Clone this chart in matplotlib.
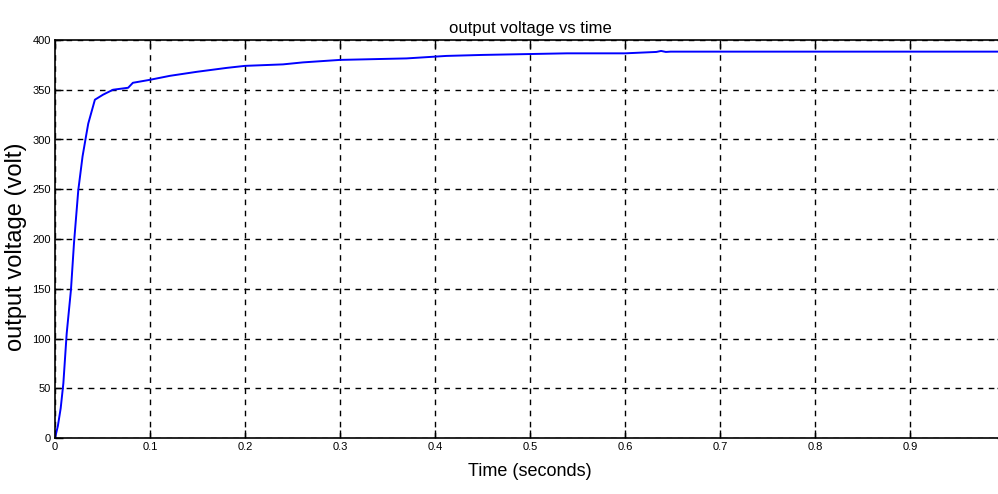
import matplotlib
matplotlib.use("Agg")
import matplotlib.pyplot as plt

# ---------- data ----------
t = [0.0, 0.003, 0.006, 0.0088, 0.0123, 0.0168, 0.020, 0.0245, 0.029, 0.0326,
     0.035, 0.042, 0.0505, 0.061, 0.077, 0.082, 0.100, 0.121, 0.149, 0.181,
     0.200, 0.240, 0.261, 0.300, 0.370, 0.412, 0.450, 0.539, 0.600, 0.633,
     0.638, 0.643, 0.648, 0.700, 0.800, 0.900, 1.000]
v = [0, 12, 30, 55, 105, 149, 196, 249, 283, 303,
     316, 340, 345, 350, 352, 357, 360, 364, 368, 372,
     374, 375.5, 377.5, 380, 381.5, 384, 385, 386.6, 386.6, 388,
     389, 388, 388.3, 388.3, 388.3, 388.3, 388.3]

xticks = [0, 0.1, 0.2, 0.3, 0.4, 0.5, 0.6, 0.7, 0.8, 0.9]
yticks = [0, 50, 100, 150, 200, 250, 300, 350, 400]

FONT = ["Liberation Sans Narrow", "Liberation Sans", "DejaVu Sans"]
plt.rcParams["font.family"] = FONT

fig = plt.figure(figsize=(9.98, 4.94), dpi=100)
ax = fig.add_axes([55 / 998, 1 - 438 / 494, 950 / 998, 398 / 494])

ax.plot(t, v, color="#0000ff", lw=1.4)
ax.set_xlim(0, 1)
ax.set_ylim(0, 400)
ax.set_xticks(xticks)
ax.set_xticklabels([f"{x:g}" for x in xticks])
ax.set_yticks(yticks)
ax.tick_params(direction="in", length=6, width=1, top=True, right=True,
               labelsize=8, pad=3)
ax.grid(True, color="black", linestyle=(0, (4, 4)), lw=1)
for s in ax.spines.values():
    s.set_linewidth(1.2)

ax.set_title("output voltage vs time", fontsize=12, pad=5)
ax.set_xlabel("Time (seconds)", fontsize=13, labelpad=8)
ax.set_ylabel("output voltage (volt)", fontsize=17)
ax.yaxis.set_label_coords(-0.029, 0.48)

fig.savefig("out.png", dpi=100)
